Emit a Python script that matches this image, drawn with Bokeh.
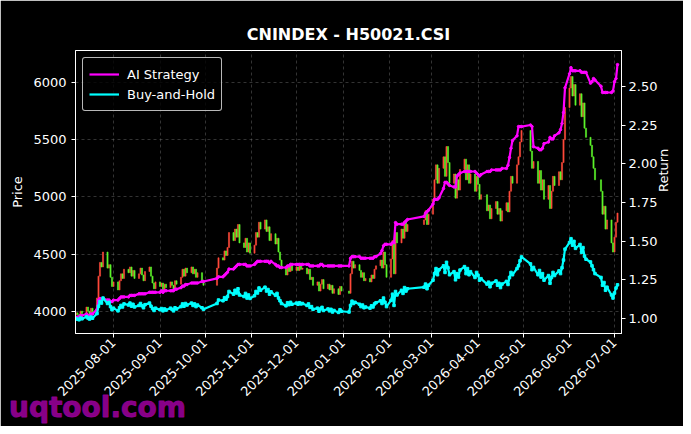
import math
import numpy as np
import pandas as pd
from bokeh.plotting import figure
from bokeh.models import (Range1d, LinearAxis, FixedTicker, DatetimeTickFormatter,
                          NumeralTickFormatter, ColumnDataSource, Legend, LegendItem, Title)
from bokeh.embed import file_html
from bokeh.resources import INLINE

# ---------------- data ----------------
title_text = "CNINDEX - H50021.CSI"
watermark_text = "uqtool.com"
start_date = "2025-07-07"
end_date = "2026-07-03"
holidays = ["2025-10-01", "2025-10-02", "2025-10-03", "2025-10-06", "2025-10-07", "2025-10-08",
            "2026-01-01", "2026-01-02", "2026-02-16", "2026-02-17", "2026-02-18", "2026-02-19",
            "2026-02-20", "2026-02-23", "2026-04-06", "2026-05-01", "2026-05-04", "2026-05-05",
            "2026-06-19"]

first_open = 3970
closes = [
    3990, 3975, 3960, 4005, 3985,
    4040, 4005, 3980, 4030, 4000,
    4120, 4310, 4430, 4390, 4520,
    4380, 4410, 4300, 4220, 4260,
    4190, 4270, 4330, 4290, 4370,
    4340, 4390, 4310, 4360, 4290,
    4330, 4380, 4320, 4270, 4350,
    4390, 4310, 4250, 4200, 4260,
    4220, 4250, 4190, 4240, 4210,
    4260, 4230, 4190, 4270, 4240,
    4300, 4370, 4310, 4380, 4340,
    4390, 4330, 4370, 4300, 4340,
    4270, 4230,
    4380, 4470,
    4450, 4530, 4490, 4560, 4690,
    4620, 4720, 4650, 4760, 4600,
    4560, 4640, 4520, 4600, 4510,
    4580, 4690, 4650, 4780, 4720,
    4800, 4700, 4740, 4620, 4680,
    4590, 4640, 4520, 4450, 4380,
    4320, 4400, 4350, 4410, 4360,
    4390, 4360, 4400, 4370, 4380,
    4330, 4370, 4280, 4300, 4230,
    4260, 4180, 4240, 4280, 4200,
    4240, 4190, 4230, 4160, 4200,
    4150, 4220, 4180,
    4160, 4330, 4440, 4380, 4410,
    4360, 4300, 4340, 4270, 4290,
    4260, 4320, 4290, 4370, 4400,
    4450, 4380, 4520, 4410, 4300,
    4460, 4620, 4330, 4690, 4600,
    4720, 4640, 4790, 4700, 4760,
    4800, 4880, 4760, 4850,
    4980, 5150, 5280, 5120, 5250,
    5350, 5180, 5440, 5300, 5120,
    5200, 4990, 5150, 5060, 5240,
    5330, 5150, 5280, 5120, 5200,
    5050, 5180, 5110, 4980, 5020,
    4880, 4930, 4810, 4900,
    4960, 4850, 4900, 4790, 4880,
    4950, 4870, 5050, 5180, 5120,
    5280, 5350, 5480, 5580,
    5400, 5250, 5310,
    5120, 5230, 5060, 5150, 4980,
    5100, 4900, 5050, 5180, 5100,
    5220, 5150, 5300, 5500, 5780,
    5950, 6050, 5880, 5980, 5800,
    5900, 5700, 5820, 5600, 5520,
    5450, 5350, 5250, 5150,
    5050, 4850, 4920, 4720, 4800,
    4600, 4520, 4650, 4780, 4860,
]

strategy = [
    1.00, 1.01, 1.01, 1.02, 1.02,
    1.03, 1.02, 1.02, 1.03, 1.03,
    1.06, 1.12, 1.13, 1.12, 1.13,
    1.12, 1.12, 1.11, 1.11, 1.12,
    1.12, 1.13, 1.14, 1.14, 1.14,
    1.14, 1.15, 1.15, 1.15, 1.15,
    1.16, 1.16, 1.16, 1.16, 1.16,
    1.17, 1.17, 1.17, 1.17, 1.17,
    1.17, 1.18, 1.17, 1.18, 1.18,
    1.18, 1.18, 1.18, 1.19, 1.19,
    1.20, 1.21, 1.21, 1.22, 1.22,
    1.23, 1.23, 1.23, 1.23, 1.23,
    1.24, 1.24,
    1.26, 1.27,
    1.27, 1.28, 1.29, 1.30, 1.32,
    1.32, 1.33, 1.34, 1.35, 1.35,
    1.35, 1.35, 1.34, 1.34, 1.34,
    1.35, 1.36, 1.37, 1.37, 1.37,
    1.37, 1.37, 1.37, 1.36, 1.37,
    1.35, 1.34, 1.34, 1.33, 1.33,
    1.33, 1.34, 1.34, 1.35, 1.35,
    1.35, 1.35, 1.35, 1.35, 1.35,
    1.35, 1.35, 1.34, 1.34, 1.34,
    1.34, 1.34, 1.35, 1.35, 1.34,
    1.34, 1.34, 1.34, 1.34, 1.34,
    1.34, 1.34, 1.34,
    1.34, 1.39, 1.40, 1.40, 1.40,
    1.40, 1.39, 1.39, 1.39, 1.39,
    1.39, 1.39, 1.39, 1.40, 1.40,
    1.42, 1.44, 1.47, 1.48, 1.48,
    1.48, 1.49, 1.49, 1.62, 1.61,
    1.61, 1.61, 1.62, 1.63, 1.64,
    1.66, 1.68, 1.69, 1.70,
    1.74, 1.77, 1.77, 1.77, 1.78,
    1.84, 1.88, 1.88, 1.87, 1.86,
    1.85, 1.85, 1.92, 1.93, 1.94,
    1.95, 1.95, 1.95, 1.95, 1.95,
    1.95, 1.94, 1.93, 1.92, 1.93,
    1.95, 1.95, 1.95, 1.96,
    1.96, 1.96, 1.96, 1.96, 1.97,
    1.97, 1.99, 2.04, 2.10, 2.15,
    2.18, 2.24, 2.24, 2.24,
    2.25, 2.24, 2.11,
    2.10, 2.09, 2.09, 2.10, 2.13,
    2.14, 2.17, 2.16, 2.16, 2.18,
    2.20, 2.22, 2.26, 2.33, 2.49,
    2.58, 2.62, 2.60, 2.60, 2.60,
    2.60, 2.59, 2.59, 2.59, 2.59,
    2.52, 2.53, 2.55, 2.54,
    2.50, 2.46, 2.46, 2.46, 2.46,
    2.46, 2.47, 2.53, 2.55, 2.64,
]

month_ticks = ["2025-08-01", "2025-09-01", "2025-10-01", "2025-11-01", "2025-12-01", "2026-01-01",
               "2026-02-01", "2026-03-01", "2026-04-01", "2026-05-01", "2026-06-01", "2026-07-01"]
price_ticks = [4000, 4500, 5000, 5500, 6000]
return_ticks = [1.00, 1.25, 1.50, 1.75, 2.00, 2.25, 2.50]
x_start = "2025-07-06 16:00"
x_end = "2026-07-05 16:00"
price_lim = (3810, 6277)
return_lim = (0.904, 2.731)

# ---------------- build ----------------
dates = pd.bdate_range(start_date, end_date)
dates = dates[~dates.isin(pd.to_datetime(holidays))]
n = min(len(dates), len(closes), len(strategy))
dates = dates[:n]
close_arr = np.array(closes[:n], dtype=float)
open_arr = np.concatenate([[first_open], close_arr[:-1]])
bh = close_arr / close_arr[0]
strat = np.array(strategy[:n], dtype=float)

inc = close_arr >= open_arr
top = np.maximum(open_arr, close_arr)
bot = np.minimum(open_arr, close_arr)

src_up = ColumnDataSource(dict(x=dates[inc], top=top[inc], bottom=bot[inc]))
src_dn = ColumnDataSource(dict(x=dates[~inc], top=top[~inc], bottom=bot[~inc]))
src_ln = ColumnDataSource(dict(x=dates, strat=strat, bh=bh))

FONT = "DejaVu Sans"
FRAME_W = 546
p = figure(width=683, height=426, x_axis_type="datetime",
           x_range=Range1d(pd.Timestamp(x_start), pd.Timestamp(x_end)),
           y_range=Range1d(*price_lim),
           output_backend="svg", toolbar_location=None,
           background_fill_color="black", border_fill_color="black",
           min_border_left=75, min_border_right=62, min_border_top=50, min_border_bottom=91)
p.extra_y_ranges = {"ret": Range1d(*return_lim)}
p.extra_x_ranges = {"px": Range1d(0, FRAME_W)}
p.title_location = None

p.outline_line_color = "white"
p.outline_line_width = 1

bar_w = 0.75 * 86400000
p.vbar(x="x", top="top", bottom="bottom", width=bar_w, source=src_up,
       fill_color="#ff4a3a", line_color="#ff4a3a", line_width=0.6)
p.vbar(x="x", top="top", bottom="bottom", width=bar_w, source=src_dn,
       fill_color="#5cf52a", line_color="#5cf52a", line_width=0.6)

l1 = p.line("x", "strat", source=src_ln, y_range_name="ret", line_color="#ff00ff", line_width=2.2)
p.scatter("x", "strat", source=src_ln, y_range_name="ret", marker="circle", size=2.5,
          fill_color="#ff00ff", line_color="#ff00ff")
l2 = p.line("x", "bh", source=src_ln, y_range_name="ret", line_color="#00ffff", line_width=2.2)
p.scatter("x", "bh", source=src_ln, y_range_name="ret", marker="square", size=2.5,
          fill_color="#00ffff", line_color="#00ffff")

# axes
def style_axis(ax):
    ax.axis_line_color = "white"
    ax.major_tick_line_color = "white"
    ax.minor_tick_line_color = None
    ax.major_tick_out = 4
    ax.major_tick_in = 0
    ax.major_label_text_color = "white"
    ax.major_label_text_font = FONT
    ax.major_label_text_font_size = "13px"
    ax.axis_label_text_color = "white"
    ax.axis_label_text_font = FONT
    ax.axis_label_text_font_size = "13px"
    ax.axis_label_text_font_style = "normal"

tick_ms = [pd.Timestamp(t).value / 1e6 for t in month_ticks]
xa = p.xaxis[0]
xa.ticker = FixedTicker(ticks=tick_ms)
xa.formatter = DatetimeTickFormatter(days="%Y-%m-%d", months="%Y-%m-%d", years="%Y-%m-%d")
xa.major_label_orientation = math.pi / 4
style_axis(xa)
xa.major_label_standoff = 3

ya = p.yaxis[0]
ya.ticker = FixedTicker(ticks=price_ticks)
ya.axis_label = "Price"
style_axis(ya)

ra = LinearAxis(y_range_name="ret", axis_label="Return",
                ticker=FixedTicker(ticks=return_ticks),
                formatter=NumeralTickFormatter(format="0.00"))
style_axis(ra)
ra.major_label_standoff = 3
ra.axis_label_standoff = 3
try:
    ra.axis_label_orientation = math.pi / 2
except Exception:
    pass
p.add_layout(ra, "right")

# invisible spacer next to the frame, title further out
sp_x = FRAME_W / 2
spacer = LinearAxis(x_range_name="px", ticker=FixedTicker(ticks=[sp_x]),
                    major_label_overrides={sp_x: " "},
                    axis_line_color=None, major_tick_line_color=None,
                    minor_tick_line_color=None, major_tick_out=2, major_tick_in=0,
                    major_label_standoff=0, major_label_text_font=FONT,
                    major_label_text_font_size="13px", major_label_text_alpha=0)
p.add_layout(spacer, "above")
title = Title(text=title_text, align="center", text_color="white", text_font=FONT,
              text_font_size="16px", text_font_style="bold", standoff=10)
p.add_layout(title, "above")

# watermark below the date labels
wm_x = 22
wm_axis = LinearAxis(x_range_name="px", ticker=FixedTicker(ticks=[wm_x]),
                     major_label_overrides={wm_x: watermark_text},
                     axis_line_color=None, major_tick_line_color=None,
                     minor_tick_line_color=None, major_tick_out=0, major_tick_in=0,
                     major_label_standoff=-13,
                     major_label_text_font=FONT, major_label_text_font_size="28px",
                     major_label_text_font_style="bold",
                     major_label_text_color="#900090", major_label_text_alpha=0.95)
try:
    wm_axis.major_label_text_outline_color = "#900090"
except Exception:
    pass
p.add_layout(wm_axis, "below")

for g in (p.xgrid[0], p.ygrid[0]):
    g.grid_line_color = "#808080"
    g.grid_line_alpha = 0.5
    g.grid_line_dash = "3 3"
    g.grid_line_width = 0.8
p.xgrid[0].ticker = FixedTicker(ticks=tick_ms)
p.ygrid[0].ticker = FixedTicker(ticks=price_ticks)

legend = Legend(items=[LegendItem(label="AI Strategy", renderers=[l1]),
                       LegendItem(label="Buy-and-Hold", renderers=[l2])],
                location="top_left")
legend.margin = 7
legend.padding = 6
legend.spacing = 0
legend.glyph_width = 30
legend.glyph_height = 20
legend.label_height = 20
legend.label_standoff = 8
legend.label_text_color = "white"
legend.label_text_font = FONT
legend.label_text_font_size = "13px"
legend.background_fill_color = "black"
legend.background_fill_alpha = 0.8
legend.border_line_color = "#cccccc"
legend.border_line_alpha = 0.9
legend.border_radius = 3
p.add_layout(legend)

html = file_html(p, INLINE)
html = html.replace("<body>", '<body style="background-color:#000000;">', 1)
open("out.html", "w").write(html)
